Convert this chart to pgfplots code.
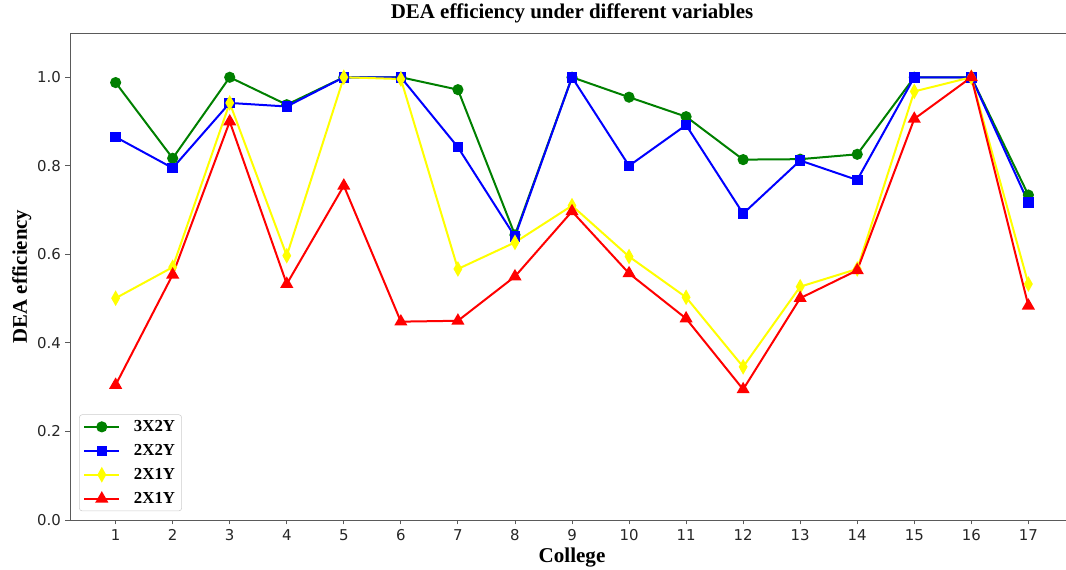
\documentclass[border=0pt]{standalone}
\usepackage{fontspec}
\setmainfont{DejaVu Sans}
\newfontfamily\timesfont{Liberation Serif}
\usepackage{pgfplots}
\pgfplotsset{compat=1.18}

\definecolor{mplgreen}{RGB}{0,128,0}
\definecolor{mplblue}{RGB}{0,0,255}
\definecolor{mplyellow}{RGB}{255,255,0}
\definecolor{mplred}{RGB}{255,0,0}
\definecolor{spine}{RGB}{90,90,90}

% one pixel of the 1066x570 reference
\newdimen\px \px=0.75pt

\begin{document}
\begin{tikzpicture}
\begin{axis}[
  scale only axis,
  width=1004\px, height=487\px,
  xmin=0.2, xmax=17.8,
  ymin=0, ymax=1.1,
  xtick={1,...,17},
  ytick={0,0.2,0.4,0.6,0.8,1.0},
  yticklabel style={/pgf/number format/fixed, /pgf/number format/fixed zerofill, /pgf/number format/precision=1},
  /pgf/number format/assume math mode=true,
  tick align=outside,
  major tick length=4.5\px,
  tick style={spine, line width=0.9\px},
  axis line style={spine, line width=0.9\px},
  xtick pos=bottom, ytick pos=left,
  ticklabel style={font=\fontsize{11.2pt}{13pt}\selectfont, text=black!85},
  title={\timesfont\bfseries DEA efficiency under different variables},
  title style={at={([yshift=6.5\px]axis description cs:0.5,1)}, anchor=base,
    font=\fontsize{15.7pt}{18pt}\selectfont, inner sep=0pt},
  xlabel={\timesfont\bfseries College},
  xlabel style={at={([yshift=-43\px]axis description cs:0.5,0)}, anchor=base,
    font=\fontsize{15.8pt}{18pt}\selectfont, inner sep=0pt},
  ylabel={\timesfont\bfseries DEA efficiency},
  ylabel style={at={([xshift=-43\px]axis description cs:0,0.5)}, anchor=base,
    font=\fontsize{15.6pt}{18pt}\selectfont, inner sep=0pt},
  legend style={at={(axis description cs:0.009,0.018)}, anchor=south west,
    draw=black!20, rounded corners=3\px, fill=white,
    font=\timesfont\bfseries\fontsize{12.6pt}{14pt}\selectfont,
    inner xsep=4\px, inner ysep=3\px, row sep=5.5\px,
    /tikz/every odd column/.append style={column sep=11\px}},
  legend cell align=left,
  legend image code/.code={
    \draw[mark repeat=2, mark phase=2] plot coordinates {(0,0) (17.5\px,0) (35\px,0)};
  },
  every axis plot/.append style={line width=1.5pt},
]
\addplot[mplgreen, mark=*, mark size=3.4pt] coordinates {
  (1,0.988)(2,0.817)(3,1.000)(4,0.938)(5,1.000)(6,1.000)(7,0.972)(8,0.644)(9,1.000)
  (10,0.955)(11,0.911)(12,0.814)(13,0.815)(14,0.826)(15,1.000)(16,1.000)(17,0.734)
};
\addlegendentry{3X2Y}
\addplot[mplblue, mark=square*, mark size=3.2pt] coordinates {
  (1,0.865)(2,0.795)(3,0.942)(4,0.934)(5,1.000)(6,1.000)(7,0.842)(8,0.640)(9,1.000)
  (10,0.800)(11,0.892)(12,0.692)(13,0.812)(14,0.768)(15,1.000)(16,1.000)(17,0.717)
};
\addlegendentry{2X2Y}
\addplot[mplyellow, mark=diamond*, mark size=4.4pt, mark options={xscale=0.75}] coordinates {
  (1,0.501)(2,0.571)(3,0.942)(4,0.597)(5,1.000)(6,0.996)(7,0.567)(8,0.627)(9,0.710)
  (10,0.595)(11,0.503)(12,0.346)(13,0.527)(14,0.567)(15,0.968)(16,1.000)(17,0.533)
};
\addlegendentry{2X1Y}
\addplot[mplred, mark=triangle*, mark size=4.2pt] coordinates {
  (1,0.305)(2,0.554)(3,0.900)(4,0.533)(5,0.755)(6,0.448)(7,0.450)(8,0.550)(9,0.697)
  (10,0.557)(11,0.455)(12,0.295)(13,0.501)(14,0.564)(15,0.906)(16,1.000)(17,0.484)
};
\addlegendentry{2X1Y}
\coordinate (ll) at (rel axis cs:0,0);
\end{axis}
\pgfresetboundingbox
\path[use as bounding box] ([xshift=-70\px, yshift=-50\px]ll) rectangle ([xshift=996\px, yshift=520\px]ll);
\end{tikzpicture}
\end{document}
